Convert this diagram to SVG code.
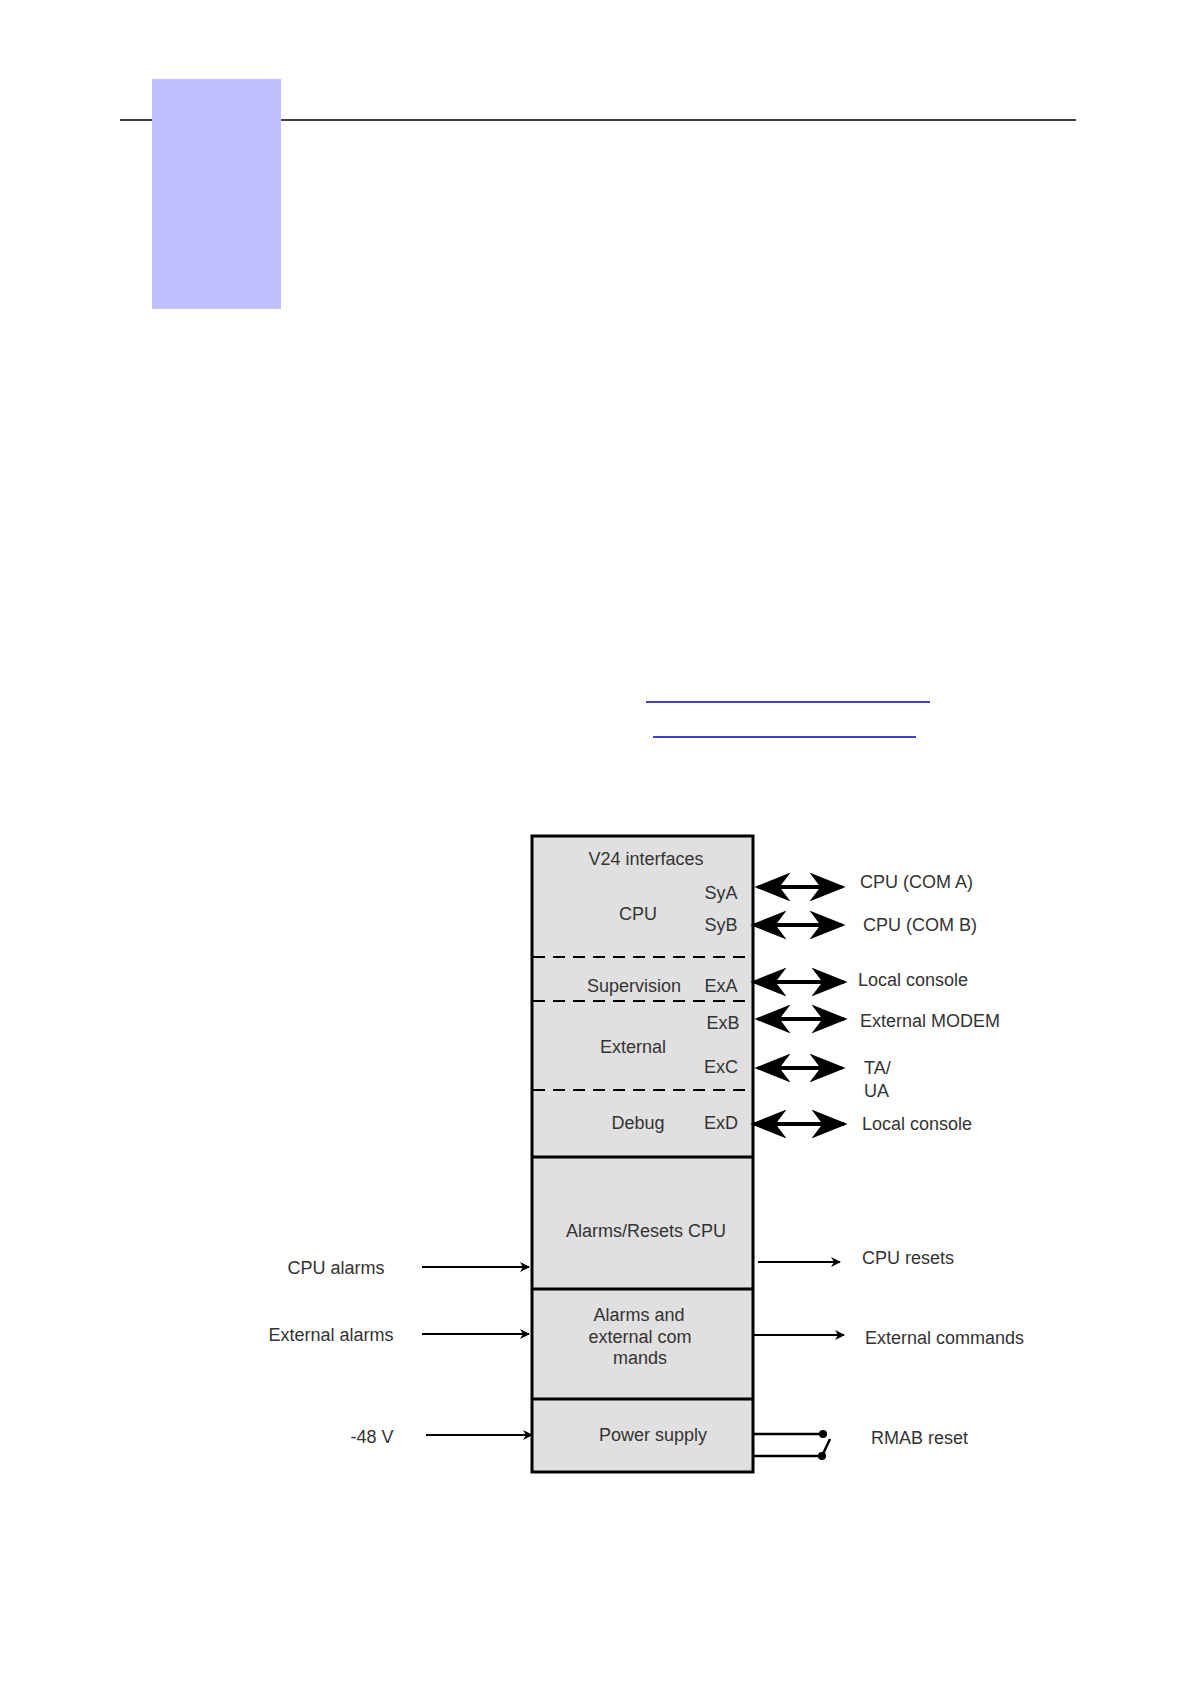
<svg xmlns="http://www.w3.org/2000/svg" width="1190" height="1684" viewBox="0 0 1190 1684">
<defs>
<marker id="ah" viewBox="0 0 10 10" refX="9" refY="5" markerWidth="10" markerHeight="10" markerUnits="userSpaceOnUse" orient="auto-start-reverse"><path d="M0,0 L10,5 L0,10 L3,5 z" fill="#000"/></marker>
<marker id="bh" viewBox="0 0 10 10" refX="9" refY="5" markerWidth="9" markerHeight="9" orient="auto-start-reverse"><path d="M0,1 L10,5 L0,9 L3,5 z" fill="#000"/></marker>
</defs>
<style>
text{font-family:"Liberation Sans",Arial,sans-serif;font-size:18px;fill:#333}
.m{text-anchor:middle}
.bi{stroke:#000;stroke-width:4;marker-start:url(#bh);marker-end:url(#bh);fill:none}
.one{stroke:#000;stroke-width:2;marker-end:url(#ah);fill:none}
.dash{stroke:#000;stroke-width:2;stroke-dasharray:12,8}
</style>
<rect width="1190" height="1684" fill="#fff"/>
<line x1="120" y1="120" x2="1076" y2="120" stroke="#000" stroke-width="1.5"/>
<rect x="152" y="79" width="129" height="230" fill="#c0c0ff"/>
<line x1="646" y1="702" x2="930" y2="702" stroke="#00c" stroke-width="1.5"/>
<line x1="653" y1="737" x2="916" y2="737" stroke="#00c" stroke-width="1.5"/>
<g id="box">
<rect x="532" y="836" width="221" height="636" fill="#e0e0e0" stroke="#000" stroke-width="3"/>
<line class="dash" x1="533" y1="957" x2="752" y2="957"/>
<line class="dash" x1="533" y1="1001" x2="752" y2="1001"/>
<line class="dash" x1="533" y1="1090" x2="752" y2="1090"/>
<line x1="532" y1="1157" x2="753" y2="1157" stroke="#000" stroke-width="3"/>
<line x1="532" y1="1289" x2="753" y2="1289" stroke="#000" stroke-width="3"/>
<line x1="532" y1="1399" x2="753" y2="1399" stroke="#000" stroke-width="3"/>
</g>
<g id="labels-box">
<text class="m" x="646" y="865">V24 interfaces</text>
<text class="m" x="721" y="899">SyA</text>
<text class="m" x="638" y="920">CPU</text>
<text class="m" x="721" y="931">SyB</text>
<text class="m" x="634" y="992">Supervision</text>
<text class="m" x="721" y="992">ExA</text>
<text class="m" x="723" y="1029">ExB</text>
<text class="m" x="633" y="1053">External</text>
<text class="m" x="721" y="1073">ExC</text>
<text class="m" x="638" y="1129">Debug</text>
<text class="m" x="721" y="1129">ExD</text>
<text class="m" x="646" y="1237">Alarms/Resets CPU</text>
<text class="m" x="639" y="1321">Alarms and</text>
<text class="m" x="640" y="1343">external com</text>
<text class="m" x="640" y="1364">mands</text>
<text class="m" x="653" y="1441">Power supply</text>
</g>
<g id="connectors">
<line class="bi" x1="758" y1="887" x2="842" y2="887"/>
<line class="bi" x1="754" y1="925" x2="842" y2="925"/>
<line class="bi" x1="754" y1="982" x2="844" y2="982"/>
<line class="bi" x1="758" y1="1019" x2="844" y2="1019"/>
<line class="bi" x1="758" y1="1068" x2="842" y2="1068"/>
<line class="bi" x1="754" y1="1124" x2="844" y2="1124"/>
<line class="one" x1="422" y1="1267" x2="529" y2="1267"/>
<line class="one" x1="758" y1="1262" x2="840" y2="1262"/>
<line class="one" x1="422" y1="1334" x2="529" y2="1334"/>
<line class="one" x1="753" y1="1335" x2="844" y2="1335"/>
<line class="one" x1="426" y1="1435" x2="532" y2="1435"/>
<g stroke="#000" stroke-width="2.5" fill="none">
<line x1="753" y1="1434" x2="822" y2="1434"/>
<line x1="753" y1="1456" x2="822" y2="1456"/>
<line x1="830" y1="1439" x2="822" y2="1456"/>
</g>
<circle cx="823" cy="1434" r="4" fill="#000"/>
<circle cx="822" cy="1456" r="4" fill="#000"/>
</g>
<g id="labels-ext">
<text x="860" y="888">CPU (COM A)</text>
<text x="863" y="931">CPU (COM B)</text>
<text x="858" y="986">Local console</text>
<text x="860" y="1027">External MODEM</text>
<text x="864" y="1074">TA/</text>
<text x="864" y="1097">UA</text>
<text x="862" y="1130">Local console</text>
<text class="m" x="336" y="1274">CPU alarms</text>
<text x="862" y="1264">CPU resets</text>
<text class="m" x="331" y="1341">External alarms</text>
<text x="865" y="1344">External commands</text>
<text class="m" x="372" y="1443">-48 V</text>
<text x="871" y="1444">RMAB reset</text>
</g>
</svg>
